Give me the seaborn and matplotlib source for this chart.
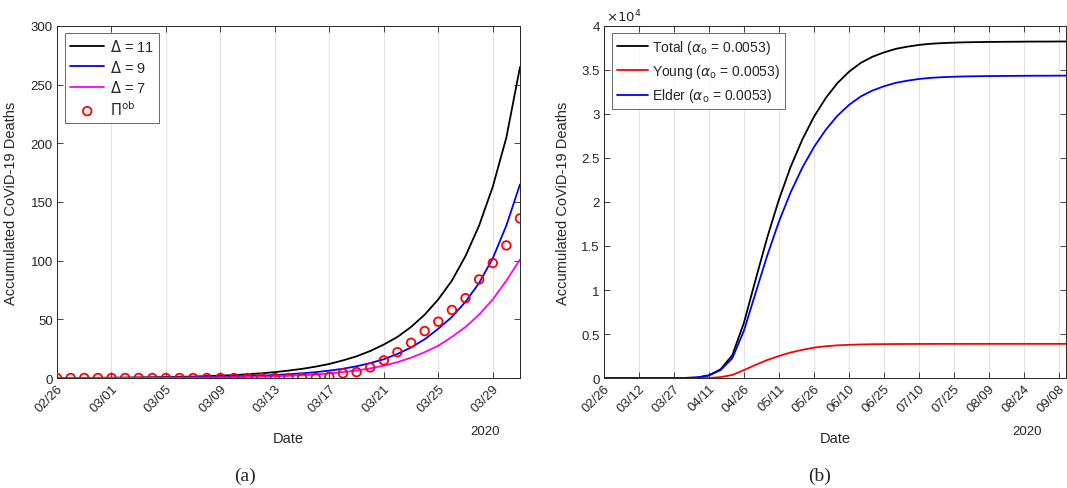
import numpy as np
import pandas as pd
import matplotlib
matplotlib.use("Agg")
import matplotlib.pyplot as plt
import matplotlib.dates as mdates
import seaborn as sns

# ---------------- data: panel (a) ----------------
days_a = pd.date_range("2020-02-26", "2020-03-31", freq="D")
delta11 = [0, 0.05, 0.1, 0.17, 0.25, 0.35, 0.45, 0.6, 0.8, 1.0, 1.25, 1.6, 2.0, 2.5,
           3.2, 4.0, 5.0, 6.3, 7.8, 9.7, 12, 15, 18.5, 23, 28.5, 35, 43.5, 54, 67,
           83, 104, 130, 163, 205, 265]
delta9 = [0, 0.03, 0.07, 0.1, 0.15, 0.2, 0.25, 0.32, 0.4, 0.5, 0.63, 0.8, 1.0, 1.25,
          1.6, 2.0, 2.5, 3.2, 4.0, 5.0, 6.3, 7.9, 10, 12.7, 16, 20.5, 26, 33, 42,
          52, 65, 81, 102, 130, 165]
delta7 = [0, 0.01, 0.02, 0.04, 0.06, 0.09, 0.12, 0.16, 0.21, 0.27, 0.34, 0.43, 0.55,
          0.7, 0.9, 1.15, 1.45, 1.85, 2.35, 3.0, 3.9, 5.0, 6.4, 8.2, 10.5, 13.5,
          17.3, 22, 27.5, 35, 43.5, 54, 67, 83, 101]
observed = [0, 0, 0, 0, 0, 0, 0, 0, 0, 0, 0, 0, 0, 0, 0, 0, 0, 0, 0, 0,
            1, 4, 5, 9, 15, 22, 30, 40, 48, 58, 68, 84, 98, 113, 136]
labels_a = [r"$\Delta$ = 11", r"$\Delta$ = 9", r"$\Delta$ = 7", r"$\Pi^{\mathrm{ob}}$"]

# ---------------- data: panel (b) ----------------
days_b = pd.date_range("2020-02-26", periods=41, freq="5D")
total = [0, 0, 0, 0, 0, 0, 0, 10, 60, 300, 1000, 2600, 6300, 11200, 16000, 20300,
         24000, 27100, 29700, 31800, 33500, 34800, 35800, 36500, 37000, 37400,
         37650, 37850, 37980, 38060, 38110, 38150, 38170, 38190, 38200, 38210,
         38220, 38230, 38230, 38240, 38240]
young = [0, 0, 0, 0, 0, 0, 0, 0, 0, 0, 100, 350, 900, 1500, 2050, 2500, 2900, 3200,
         3450, 3610, 3710, 3770, 3810, 3835, 3850, 3860, 3865, 3870, 3872, 3875,
         3876, 3877, 3878, 3879, 3880, 3880, 3880, 3880, 3880, 3880, 3880]
elder = [0, 0, 0, 0, 0, 0, 0, 10, 60, 300, 900, 2250, 5400, 9700, 13950, 17800,
         21100, 23900, 26250, 28190, 29790, 31030, 31990, 32665, 33150, 33540,
         33785, 33980, 34108, 34185, 34234, 34273, 34292, 34311, 34320, 34330,
         34340, 34350, 34350, 34360, 34360]
labels_b = [r"Total ($\alpha_{\mathrm{o}}$ = 0.0053)",
            r"Young ($\alpha_{\mathrm{o}}$ = 0.0053)",
            r"Elder ($\alpha_{\mathrm{o}}$ = 0.0053)"]
yticks_b = [0, 0.5, 1, 1.5, 2, 2.5, 3, 3.5, 4]

# ---------------- style ----------------
sns.set_theme(style="white")
plt.rcParams["font.family"] = ["Liberation Sans", "DejaVu Sans"]
plt.rcParams["mathtext.fontset"] = "dejavusans"
dark = "#262626"
TICK = 9.5
LAB = 10.5

W, H = 1067, 489
fig = plt.figure(figsize=(W / 100, H / 100), dpi=100)

def px_axes(x0, x1, y0, y1):
    return fig.add_axes([x0 / W, 1 - y1 / H, (x1 - x0) / W, (y1 - y0) / H])

axA = px_axes(57, 520, 27, 379)
axB = px_axes(604, 1066, 27, 379)

# panel (a)
dfA = pd.DataFrame({"date": days_a, "d11": delta11, "d9": delta9, "d7": delta7, "obs": observed})
sns.lineplot(data=dfA, x="date", y="d11", ax=axA, color="black", lw=1.3, label=labels_a[0])
sns.lineplot(data=dfA, x="date", y="d9", ax=axA, color="blue", lw=1.3, label=labels_a[1])
sns.lineplot(data=dfA, x="date", y="d7", ax=axA, color="magenta", lw=1.3, label=labels_a[2])
axA.scatter(dfA["date"], dfA["obs"], s=38, facecolors="none", edgecolors="red",
            linewidths=1.3, label=labels_a[3], zorder=5)
axA.set_xlim(days_a[0], days_a[-1])
axA.set_ylim(0, 300)
axA.set_yticks(range(0, 301, 50))
axA.set_xticks(pd.date_range("2020-02-26", periods=9, freq="4D"))

# panel (b)
dfB = pd.DataFrame({"date": days_b, "total": total, "young": young, "elder": elder})
sns.lineplot(data=dfB, x="date", y="total", ax=axB, color="black", lw=1.3, label=labels_b[0])
sns.lineplot(data=dfB, x="date", y="young", ax=axB, color="red", lw=1.3, label=labels_b[1])
sns.lineplot(data=dfB, x="date", y="elder", ax=axB, color="blue", lw=1.3, label=labels_b[2])
axB.set_xlim(days_b[0], days_b[0] + pd.Timedelta(days=198))
axB.set_ylim(0, 40000)
axB.set_yticks([v * 1e4 for v in yticks_b])
axB.set_yticklabels([f"{v:g}" for v in yticks_b])
axB.set_xticks(pd.date_range("2020-02-26", periods=14, freq="15D"))
axB.text(0.005, 1.006, r"$\times10^{4}$", transform=axB.transAxes, ha="left", va="bottom",
         fontsize=TICK, color=dark)

for ax, lab_off, yr_off in ((axA, 39, 20), (axB, 34, 24)):
    ax.xaxis.set_major_formatter(mdates.DateFormatter("%m/%d"))
    ax.grid(axis="x", color="#e3e3e3", lw=0.8)
    ax.grid(axis="y", visible=False)
    ax.tick_params(direction="in", length=4, width=0.6, color=dark, labelcolor=dark,
                   labelsize=TICK, top=True, right=True, bottom=True, left=True, pad=3)
    for lab in ax.get_xticklabels():
        lab.set_rotation(45)
        lab.set_ha("right")
        lab.set_rotation_mode("anchor")
    for s in ax.spines.values():
        s.set_color(dark)
        s.set_linewidth(0.7)
    ax.set_xlabel("Date", fontsize=LAB, color=dark)
    ax.set_ylabel("Accumulated CoViD-19 Deaths", fontsize=LAB, color=dark)
    w = ax.get_position().width * W
    ax.yaxis.set_label_coords(-lab_off / w, 0.5)
    ax.xaxis.set_label_coords(0.5, -(432 - 379) / 352)
    ax.text(1 - yr_off / w, -(432 - 379) / 352, "2020", transform=ax.transAxes,
            ha="right", va="center", fontsize=TICK, color=dark)

legA = axA.legend(loc="upper left", bbox_to_anchor=(0.018, 0.98), fontsize=10.5,
                  frameon=True, fancybox=False, edgecolor=dark, handlelength=2.3,
                  labelspacing=0.3, borderpad=0.35, handletextpad=0.4, borderaxespad=0)
legA.get_frame().set_linewidth(0.6)
legB = axB.legend(loc="upper left", bbox_to_anchor=(0.018, 0.98), fontsize=10,
                  frameon=True, fancybox=False, edgecolor=dark, handlelength=2.2,
                  labelspacing=0.45, borderpad=0.35, handletextpad=0.3, borderaxespad=0)
legB.get_frame().set_linewidth(0.6)

fig.text(245 / W, 1 - 476 / H, "(a)", ha="center", va="center", fontsize=14,
         family=["Liberation Serif", "DejaVu Serif"])
fig.text(820 / W, 1 - 476 / H, "(b)", ha="center", va="center", fontsize=14,
         family=["Liberation Serif", "DejaVu Serif"])

fig.savefig("out.png", dpi=100)
